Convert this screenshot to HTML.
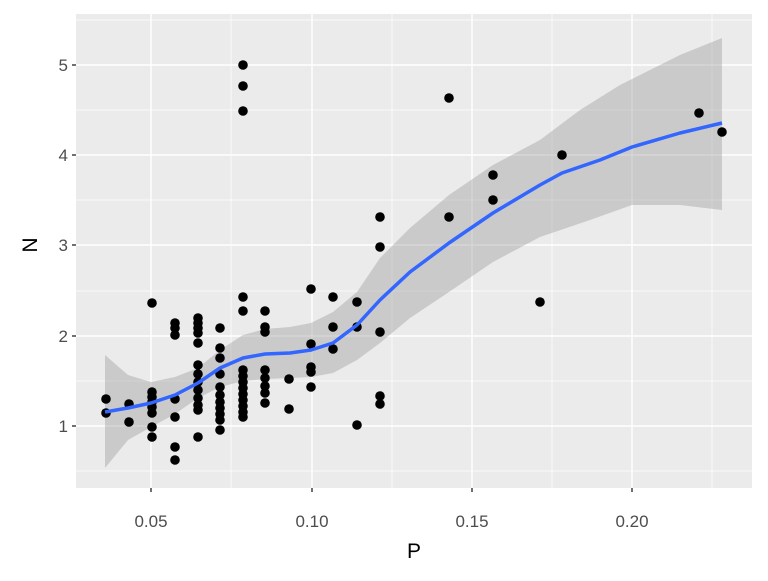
<!DOCTYPE html><html><head><style>body{margin:0;background:#fff}</style></head><body>
<svg width="768" height="576" xmlns="http://www.w3.org/2000/svg" font-family="Liberation Sans, sans-serif">
<rect x="76" y="14" width="676" height="474" fill="#ebebeb"/>
<g stroke="#fff" stroke-width="0.7">
<line x1="76" x2="752" y1="471" y2="471"/><line x1="76" x2="752" y1="381" y2="381"/><line x1="76" x2="752" y1="291" y2="291"/><line x1="76" x2="752" y1="200" y2="200"/><line x1="76" x2="752" y1="110" y2="110"/><line x1="76" x2="752" y1="20" y2="20"/>
<line y1="14" y2="488" x1="231" x2="231"/><line y1="14" y2="488" x1="392" x2="392"/><line y1="14" y2="488" x1="552" x2="552"/><line y1="14" y2="488" x1="712" x2="712"/>
</g>
<g stroke="#fff" stroke-width="1.4">
<line x1="76" x2="752" y1="426" y2="426"/><line x1="76" x2="752" y1="336" y2="336"/><line x1="76" x2="752" y1="245" y2="245"/><line x1="76" x2="752" y1="155" y2="155"/><line x1="76" x2="752" y1="65" y2="65"/>
<line y1="14" y2="488" x1="151" x2="151"/><line y1="14" y2="488" x1="312" x2="312"/><line y1="14" y2="488" x1="472" x2="472"/><line y1="14" y2="488" x1="632" x2="632"/>
</g>
<polygon fill="#999" fill-opacity="0.4" points="105,355 128,375 151,382 175,377 198,368 220,350 243,335 265,329 290,327 311,323 333,312 357,292 380,258 410,228 449,195 493,165 540,140 580,110 620,85 680,55 722,38 722,210 680,205 632,205 590,220 540,237 493,262 449,292 410,318 380,343 357,360 333,373 311,377 290,378 265,379 243,381 220,387 198,398 175,414 151,427 128,440 105,468"/>
<g fill="#000">
<circle cx="106" cy="399" r="4.8"/><circle cx="106" cy="413" r="4.8"/>
<circle cx="129" cy="404" r="4.8"/><circle cx="129" cy="422" r="4.8"/>
<circle cx="152" cy="303" r="4.8"/><circle cx="152" cy="392" r="4.8"/><circle cx="152" cy="397" r="4.8"/><circle cx="152" cy="402" r="4.8"/><circle cx="152" cy="407" r="4.8"/><circle cx="152" cy="413" r="4.8"/><circle cx="152" cy="427" r="4.8"/><circle cx="152" cy="437" r="4.8"/>
<circle cx="175" cy="323" r="4.8"/><circle cx="175" cy="328" r="4.8"/><circle cx="175" cy="335" r="4.8"/><circle cx="175" cy="399" r="4.8"/><circle cx="175" cy="417" r="4.8"/><circle cx="175" cy="447" r="4.8"/><circle cx="175" cy="460" r="4.8"/>
<circle cx="198" cy="318" r="4.8"/><circle cx="198" cy="323" r="4.8"/><circle cx="198" cy="328" r="4.8"/><circle cx="198" cy="333" r="4.8"/><circle cx="198" cy="343" r="4.8"/><circle cx="198" cy="365" r="4.8"/><circle cx="198" cy="374" r="4.8"/><circle cx="198" cy="382" r="4.8"/><circle cx="198" cy="390" r="4.8"/><circle cx="198" cy="398" r="4.8"/><circle cx="198" cy="405" r="4.8"/><circle cx="198" cy="410" r="4.8"/><circle cx="198" cy="437" r="4.8"/>
<circle cx="220" cy="328" r="4.8"/><circle cx="220" cy="348" r="4.8"/><circle cx="220" cy="358" r="4.8"/><circle cx="220" cy="374" r="4.8"/><circle cx="220" cy="387" r="4.8"/><circle cx="220" cy="395" r="4.8"/><circle cx="220" cy="402" r="4.8"/><circle cx="220" cy="408" r="4.8"/><circle cx="220" cy="414" r="4.8"/><circle cx="220" cy="420" r="4.8"/><circle cx="220" cy="430" r="4.8"/>
<circle cx="243" cy="65" r="4.8"/><circle cx="243" cy="86" r="4.8"/><circle cx="243" cy="111" r="4.8"/><circle cx="243" cy="297" r="4.8"/><circle cx="243" cy="311" r="4.8"/><circle cx="243" cy="370" r="4.8"/><circle cx="243" cy="376" r="4.8"/><circle cx="243" cy="382" r="4.8"/><circle cx="243" cy="388" r="4.8"/><circle cx="243" cy="394" r="4.8"/><circle cx="243" cy="400" r="4.8"/><circle cx="243" cy="406" r="4.8"/><circle cx="243" cy="412" r="4.8"/><circle cx="243" cy="417" r="4.8"/>
<circle cx="265" cy="311" r="4.8"/><circle cx="265" cy="327" r="4.8"/><circle cx="265" cy="332" r="4.8"/><circle cx="265" cy="370" r="4.8"/><circle cx="265" cy="378" r="4.8"/><circle cx="265" cy="386" r="4.8"/><circle cx="265" cy="393" r="4.8"/><circle cx="265" cy="403" r="4.8"/>
<circle cx="289" cy="379" r="4.8"/><circle cx="289" cy="409" r="4.8"/>
<circle cx="311" cy="289" r="4.8"/><circle cx="311" cy="344" r="4.8"/><circle cx="311" cy="367" r="4.8"/><circle cx="311" cy="372" r="4.8"/><circle cx="311" cy="387" r="4.8"/>
<circle cx="333" cy="297" r="4.8"/><circle cx="333" cy="327" r="4.8"/><circle cx="333" cy="349" r="4.8"/>
<circle cx="357" cy="302" r="4.8"/><circle cx="357" cy="327" r="4.8"/><circle cx="357" cy="425" r="4.8"/>
<circle cx="380" cy="217" r="4.8"/><circle cx="380" cy="247" r="4.8"/><circle cx="380" cy="332" r="4.8"/><circle cx="380" cy="396" r="4.8"/><circle cx="380" cy="404" r="4.8"/>
<circle cx="449" cy="98" r="4.8"/><circle cx="449" cy="217" r="4.8"/>
<circle cx="493" cy="175" r="4.8"/><circle cx="493" cy="200" r="4.8"/>
<circle cx="540" cy="302" r="4.8"/><circle cx="562" cy="155" r="4.8"/>
<circle cx="699" cy="113" r="4.8"/><circle cx="722" cy="132" r="4.8"/>
</g>
<polyline fill="none" stroke="#3366ff" stroke-width="3.5" stroke-linejoin="round" points="105,412 128,408 151,403 175,395 198,383 220,368 243,358 265,354 290,353 311,350 333,343 357,325 380,300 410,272 449,243 493,213 540,185 562,173 600,160 632,147 680,133 722,123"/>
<g stroke="#333" stroke-width="1.4">
<line x1="72" x2="76" y1="426" y2="426"/><line x1="72" x2="76" y1="336" y2="336"/><line x1="72" x2="76" y1="245" y2="245"/><line x1="72" x2="76" y1="155" y2="155"/><line x1="72" x2="76" y1="65" y2="65"/>
<line y1="488" y2="492" x1="151" x2="151"/><line y1="488" y2="492" x1="312" x2="312"/><line y1="488" y2="492" x1="472" x2="472"/><line y1="488" y2="492" x1="632" x2="632"/>
</g>
<g fill="#4d4d4d" font-size="17" text-anchor="end">
<text x="68" y="432">1</text><text x="68" y="342">2</text><text x="68" y="251">3</text><text x="68" y="161">4</text><text x="68" y="71">5</text>
</g>
<g fill="#4d4d4d" font-size="17" text-anchor="middle">
<text x="151" y="527">0.05</text><text x="312" y="527">0.10</text><text x="472" y="527">0.15</text><text x="632" y="527">0.20</text>
</g>
<text x="414" y="558" font-size="21" text-anchor="middle">P</text>
<text transform="translate(37,245) rotate(-90)" font-size="21" text-anchor="middle">N</text>
</svg>
</body></html>
